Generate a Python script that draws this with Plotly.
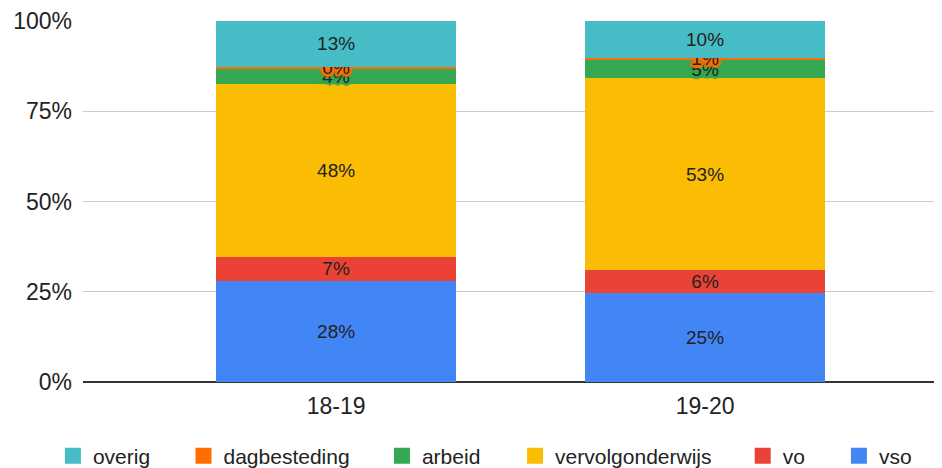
import plotly.graph_objects as go

categories = ["18-19", "19-20"]
series_names = ["vso", "vo", "vervolgonderwijs", "arbeid", "dagbesteding", "overig"]
vso = [28.0, 24.7]
vo = [6.7, 6.3]
vervolgonderwijs = [47.9, 53.2]
arbeid = [4.3, 5.0]
dagbesteding = [0.45, 0.6]
overig = [12.65, 10.2]
colors = ["#4285F4", "#EA4335", "#FBBC04", "#34A853", "#FF6D01", "#46BDC6"]
tick_vals = [0, 25, 50, 75, 100]
tick_text = ["0%", "25%", "50%", "75%", "100%"]

values = [vso, vo, vervolgonderwijs, arbeid, dagbesteding, overig]

fig = go.Figure()
for name, vals, col in zip(series_names, values, colors):
    font = dict(family="Liberation Sans, Arial", size=19, color="#222222")
    if name in ("dagbesteding", "arbeid"):
        s = col
        offs = [(2, 0), (-2, 0), (0, 2), (0, -2), (2, 2), (-2, -2), (2, -2), (-2, 2),
                (3, 0), (-3, 0), (0, 3), (0, -3)]
        font["shadow"] = ", ".join(f"{a}px {b}px 1px {s}" for a, b in offs)
    fig.add_trace(go.Bar(
        x=categories, y=vals, name=name, showlegend=False,
        marker=dict(color=col, line=dict(width=0)),
        texttemplate="%{y:.0f}%", textposition="inside",
        insidetextanchor="middle", constraintext="none",
        textfont=font, textangle=0,
        hoverinfo="skip",
    ))

# legend entries, top series first, each in its own legend box so the spacing matches
legend_x = [-0.035, 0.117, 0.348, 0.503, 0.768, 0.880]
legend_layout = {}
for i, (name, col) in enumerate(reversed(list(zip(series_names, colors)))):
    key = "legend" if i == 0 else f"legend{i + 1}"
    fig.add_trace(go.Scatter(
        x=[None], y=[None], mode="markers", name=name, legend=key,
        marker=dict(symbol="square", size=22, color=col),
        hoverinfo="skip",
    ))
    legend_layout[key] = dict(
        orientation="h", x=legend_x[i], xanchor="left", y=-0.205, yanchor="middle",
        font=dict(family="Liberation Sans, Arial", size=21, color="#222222"),
        itemsizing="trace", itemwidth=30, bgcolor="rgba(0,0,0,0)",
    )

fig.update_layout(
    barmode="stack",
    width=934, height=460,
    margin=dict(l=75, r=0, t=13, b=86, autoexpand=False),
    plot_bgcolor="white", paper_bgcolor="white",
    bargap=0.35,
    font=dict(family="Liberation Sans, Arial", color="#222222"),
    xaxis=dict(range=[-0.686, 1.642], showgrid=False, ticks="",
               tickfont=dict(size=23, color="#222222"), automargin=False,
               ticklabelstandoff=8,
               showline=False, zeroline=False),
    yaxis=dict(range=[0, 100], tickvals=tick_vals, ticktext=tick_text,
               showgrid=True, gridcolor="#cccccc", gridwidth=1,
               tickfont=dict(size=23, color="#222222"), automargin=False,
               ticklabelstandoff=10,
               zeroline=True, zerolinecolor="#333333", zerolinewidth=2,
               showline=False, ticks="", ticklen=0),
    **legend_layout,
)

fig.write_html("out.html")
